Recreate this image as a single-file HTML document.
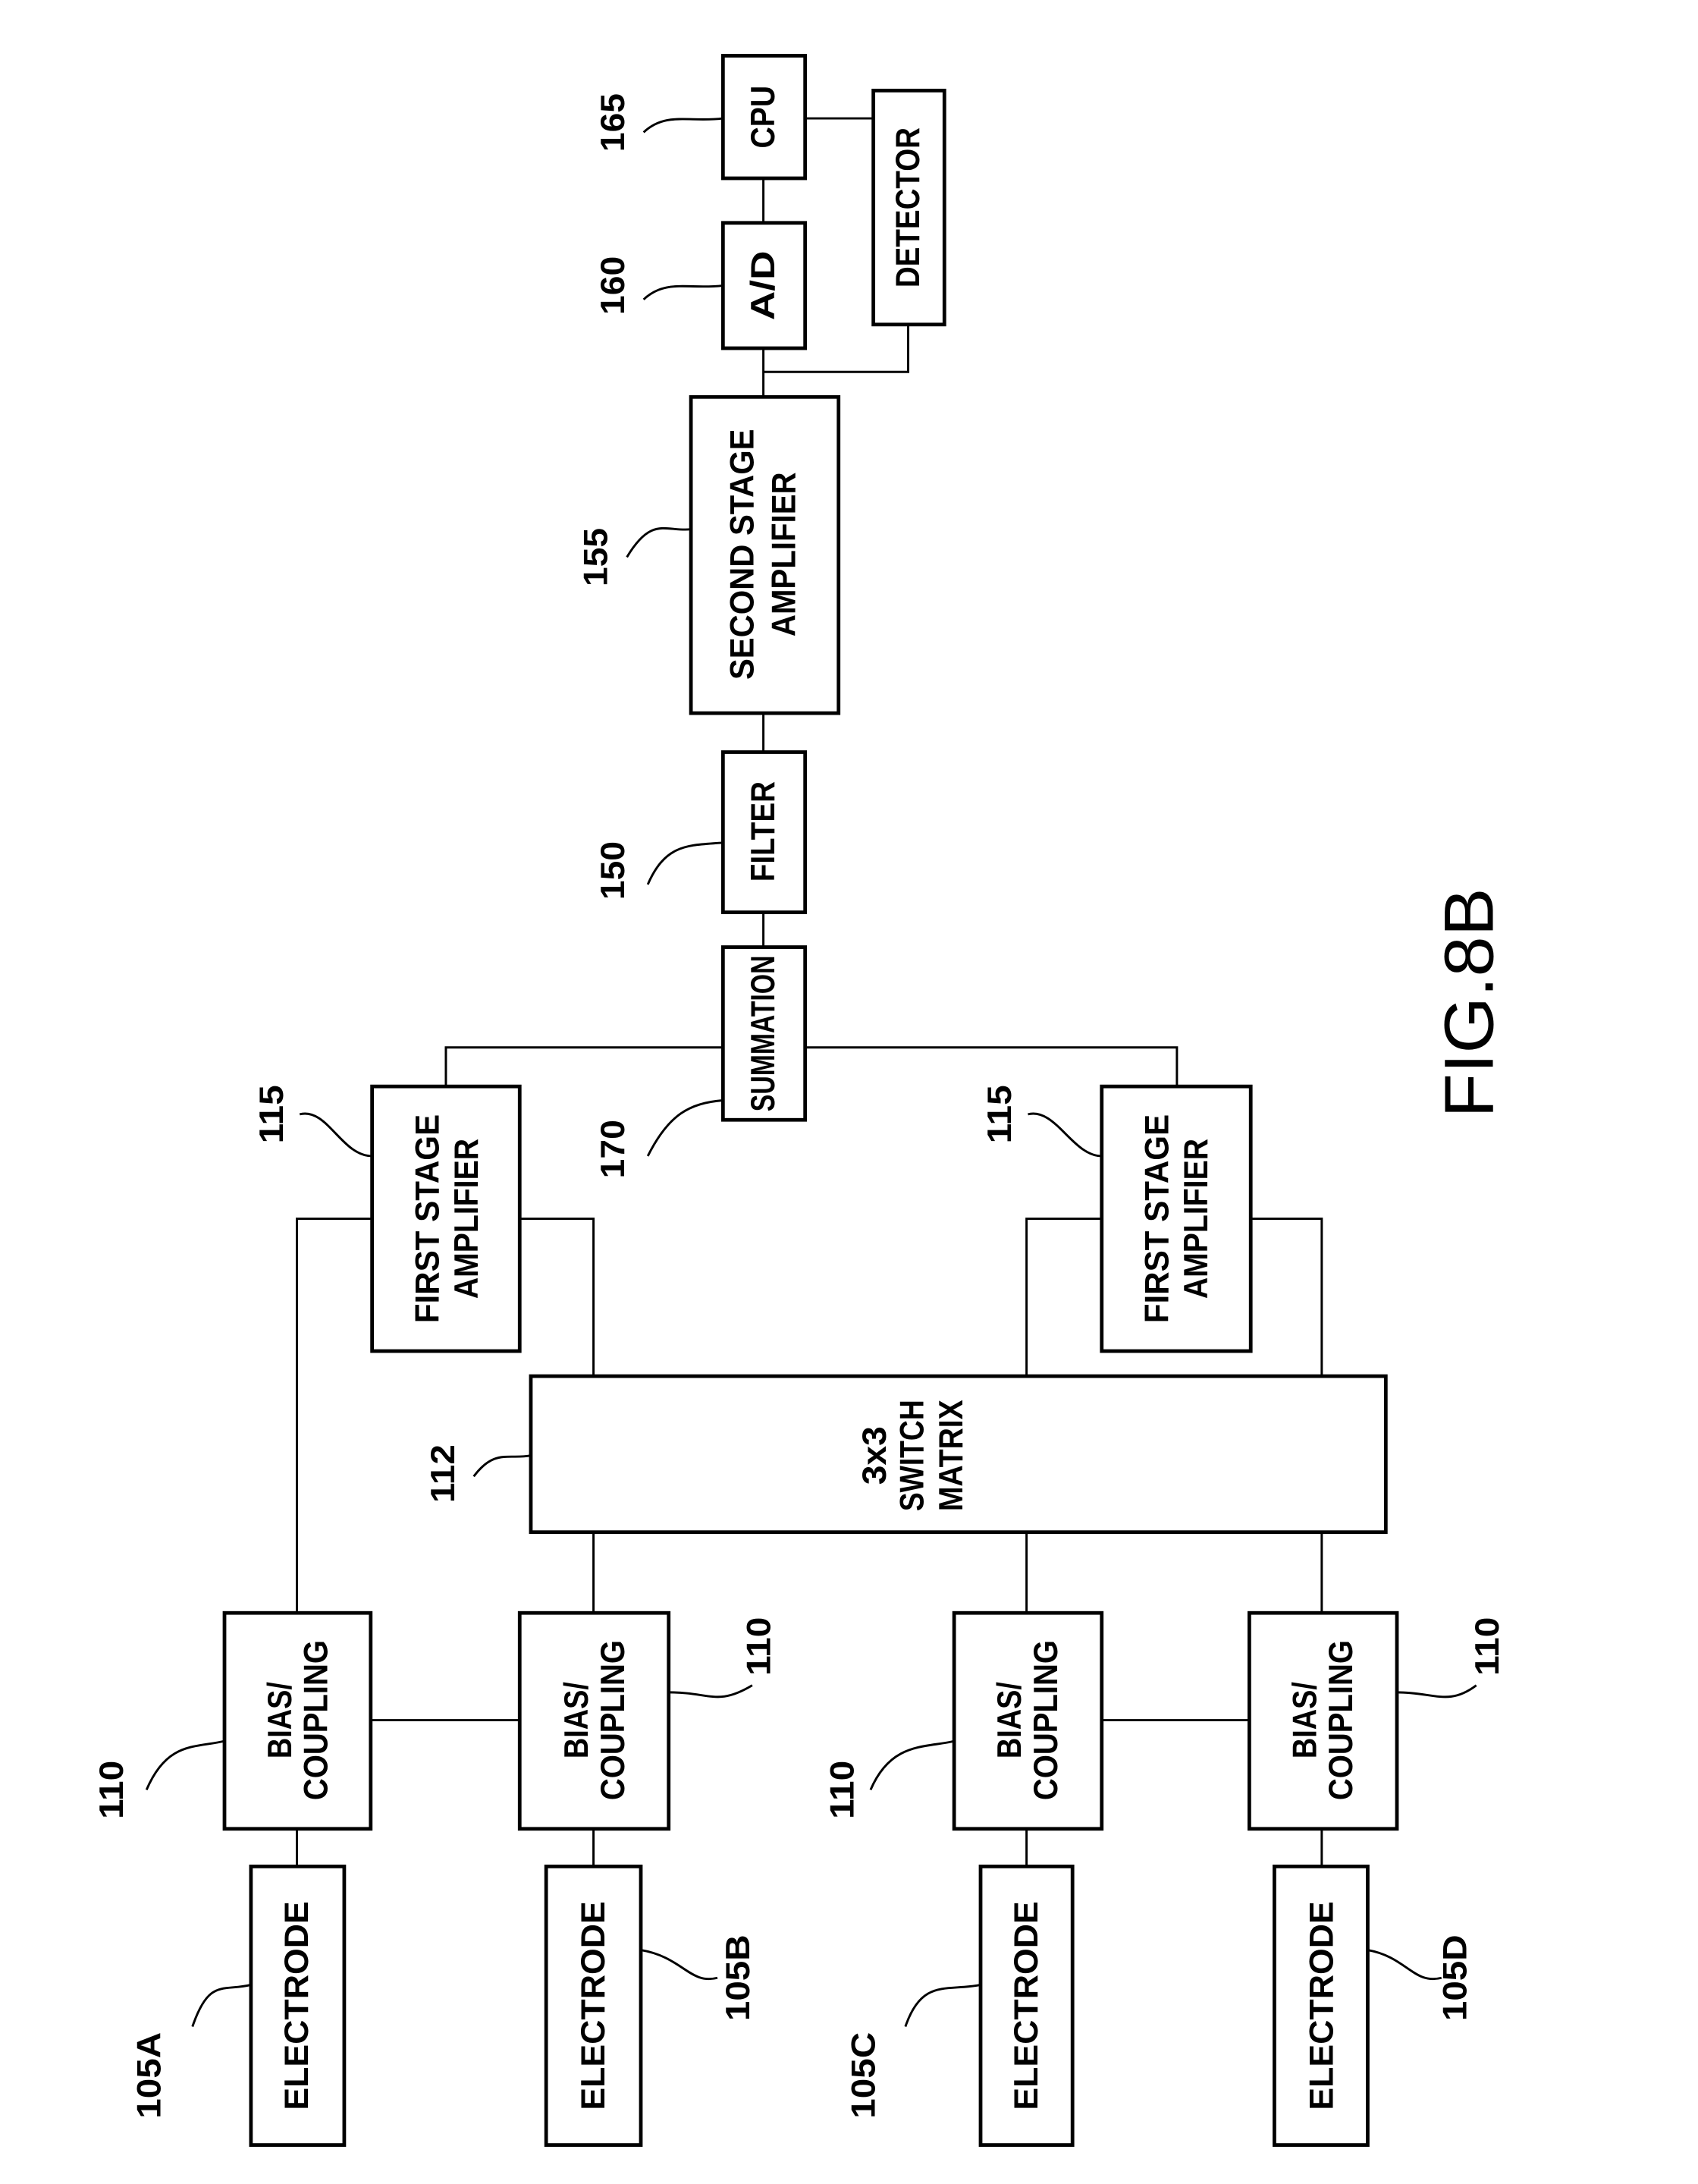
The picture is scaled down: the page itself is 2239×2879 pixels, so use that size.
<!DOCTYPE html>
<html><head><meta charset="utf-8"><style>html,body{margin:0;padding:0;background:#fff}svg{display:block}</style></head>
<body>
<svg width="2239" height="2879" viewBox="0 0 1219 1568" xmlns="http://www.w3.org/2000/svg" font-family="Liberation Sans, sans-serif" font-weight="bold">
<g fill="none" stroke="#000" stroke-width="2.6">
<rect x="180" y="1340" width="67" height="200"/>
<rect x="392" y="1340" width="68" height="200"/>
<rect x="704" y="1340" width="66" height="200"/>
<rect x="915" y="1340" width="67" height="200"/>
<rect x="161" y="1158" width="105" height="155"/>
<rect x="373" y="1158" width="107" height="155"/>
<rect x="685" y="1158" width="106" height="155"/>
<rect x="897" y="1158" width="106" height="155"/>
<rect x="381" y="988" width="614" height="112"/>
<rect x="267" y="780" width="106" height="190"/>
<rect x="791" y="780" width="107" height="190"/>
<rect x="519" y="680" width="59" height="124"/>
<rect x="519" y="540" width="59" height="115"/>
<rect x="496" y="285" width="106" height="227"/>
<rect x="519" y="160" width="59" height="90"/>
<rect x="519" y="40" width="59" height="88"/>
<rect x="627" y="65" width="51" height="168"/>
</g>
<g fill="none" stroke="#000" stroke-width="1.6">
<path d="M213 1313V1340M426 1313V1340M737 1313V1340M949 1313V1340"/>
<path d="M266 1235H373M791 1235H897"/>
<path d="M213 1158V875H267"/>
<path d="M426 1158V1100M737 1158V1100M949 1158V1100"/>
<path d="M426 988V875H373"/>
<path d="M737 988V875H791M949 988V875H898"/>
<path d="M320 780V752H519M578 752H845V780"/>
<path d="M548 655V680M548 512V540M548 250V285M548 128V160"/>
<path d="M578 85H627"/>
<path d="M652 233V267H548"/>
<!-- leaders -->
<path d="M138 1455C150 1420 160 1430 180 1425"/>
<path d="M460 1400C490 1405 495 1425 515 1420"/>
<path d="M650 1455C662 1420 680 1430 704 1425"/>
<path d="M982 1400C1010 1405 1015 1425 1035 1420"/>
<path d="M105 1285C120 1250 140 1255 161 1250"/>
<path d="M480 1215C510 1215 515 1225 540 1210"/>
<path d="M625 1285C640 1250 665 1255 685 1250"/>
<path d="M1003 1215C1030 1215 1040 1225 1060 1210"/>
<path d="M340 1060C355 1040 365 1048 381 1045"/>
<path d="M215 800C235 795 245 830 267 830"/>
<path d="M738 800C758 795 770 830 791 830"/>
<path d="M465 830C480 800 495 792 519 790"/>
<path d="M465 635C478 605 495 607 519 605"/>
<path d="M450 400C468 370 478 382 496 380"/>
<path d="M462 215C478 200 495 208 519 205"/>
<path d="M462 95C478 80 495 88 519 85"/>
</g>
<g font-size="24" fill="#000" text-anchor="middle" dominant-baseline="central">
<text transform="translate(213,1440) rotate(-90)" textLength="150" lengthAdjust="spacingAndGlyphs">ELECTRODE</text>
<text transform="translate(426,1440) rotate(-90)" textLength="150" lengthAdjust="spacingAndGlyphs">ELECTRODE</text>
<text transform="translate(737,1440) rotate(-90)" textLength="150" lengthAdjust="spacingAndGlyphs">ELECTRODE</text>
<text transform="translate(949,1440) rotate(-90)" textLength="150" lengthAdjust="spacingAndGlyphs">ELECTRODE</text>
<g>
<text transform="translate(201,1235) rotate(-90)" textLength="55" lengthAdjust="spacingAndGlyphs">BIAS/</text>
<text transform="translate(227,1235) rotate(-90)" textLength="115" lengthAdjust="spacingAndGlyphs">COUPLING</text>
<text transform="translate(414,1235) rotate(-90)" textLength="55" lengthAdjust="spacingAndGlyphs">BIAS/</text>
<text transform="translate(440,1235) rotate(-90)" textLength="115" lengthAdjust="spacingAndGlyphs">COUPLING</text>
<text transform="translate(725,1235) rotate(-90)" textLength="55" lengthAdjust="spacingAndGlyphs">BIAS/</text>
<text transform="translate(751,1235) rotate(-90)" textLength="115" lengthAdjust="spacingAndGlyphs">COUPLING</text>
<text transform="translate(937,1235) rotate(-90)" textLength="55" lengthAdjust="spacingAndGlyphs">BIAS/</text>
<text transform="translate(963,1235) rotate(-90)" textLength="115" lengthAdjust="spacingAndGlyphs">COUPLING</text>
</g>
<text transform="translate(628,1045) rotate(-90)" textLength="42" lengthAdjust="spacingAndGlyphs">3x3</text>
<text transform="translate(655,1045) rotate(-90)" textLength="80" lengthAdjust="spacingAndGlyphs">SWITCH</text>
<text transform="translate(683,1045) rotate(-90)" textLength="80" lengthAdjust="spacingAndGlyphs">MATRIX</text>
<text transform="translate(307,875) rotate(-90)" textLength="150" lengthAdjust="spacingAndGlyphs">FIRST  STAGE</text>
<text transform="translate(335,875) rotate(-90)" textLength="115" lengthAdjust="spacingAndGlyphs">AMPLIFIER</text>
<text transform="translate(831,875) rotate(-90)" textLength="150" lengthAdjust="spacingAndGlyphs">FIRST  STAGE</text>
<text transform="translate(859,875) rotate(-90)" textLength="115" lengthAdjust="spacingAndGlyphs">AMPLIFIER</text>
<text transform="translate(548,742) rotate(-90)" textLength="112" lengthAdjust="spacingAndGlyphs">SUMMATION</text>
<text transform="translate(548,597) rotate(-90)" textLength="72" lengthAdjust="spacingAndGlyphs">FILTER</text>
<text transform="translate(533,398) rotate(-90)" textLength="180" lengthAdjust="spacingAndGlyphs">SECOND  STAGE</text>
<text transform="translate(563,398) rotate(-90)" textLength="118" lengthAdjust="spacingAndGlyphs">AMPLIFIER</text>
<text transform="translate(548,205) rotate(-90)" textLength="50" lengthAdjust="spacingAndGlyphs">A/D</text>
<text transform="translate(548,84) rotate(-90)" textLength="45" lengthAdjust="spacingAndGlyphs">CPU</text>
<text transform="translate(652,149) rotate(-90)" textLength="115" lengthAdjust="spacingAndGlyphs">DETECTOR</text>
<!-- reference numbers -->
<text transform="translate(107,1490) rotate(-90)" textLength="62" lengthAdjust="spacingAndGlyphs">105A</text>
<text transform="translate(530,1420) rotate(-90)" textLength="62" lengthAdjust="spacingAndGlyphs">105B</text>
<text transform="translate(620,1490) rotate(-90)" textLength="62" lengthAdjust="spacingAndGlyphs">105C</text>
<text transform="translate(1045,1420) rotate(-90)" textLength="62" lengthAdjust="spacingAndGlyphs">105D</text>
<text transform="translate(80,1285) rotate(-90)" textLength="42" lengthAdjust="spacingAndGlyphs">110</text>
<text transform="translate(545,1182) rotate(-90)" textLength="42" lengthAdjust="spacingAndGlyphs">110</text>
<text transform="translate(605,1285) rotate(-90)" textLength="42" lengthAdjust="spacingAndGlyphs">110</text>
<text transform="translate(1068,1182) rotate(-90)" textLength="42" lengthAdjust="spacingAndGlyphs">110</text>
<text transform="translate(318,1058) rotate(-90)" textLength="42" lengthAdjust="spacingAndGlyphs">112</text>
<text transform="translate(195,800) rotate(-90)" textLength="42" lengthAdjust="spacingAndGlyphs">115</text>
<text transform="translate(718,800) rotate(-90)" textLength="42" lengthAdjust="spacingAndGlyphs">115</text>
<text transform="translate(440,825) rotate(-90)" textLength="42" lengthAdjust="spacingAndGlyphs">170</text>
<text transform="translate(440,625) rotate(-90)" textLength="42" lengthAdjust="spacingAndGlyphs">150</text>
<text transform="translate(428,400) rotate(-90)" textLength="42" lengthAdjust="spacingAndGlyphs">155</text>
<text transform="translate(440,205) rotate(-90)" textLength="42" lengthAdjust="spacingAndGlyphs">160</text>
<text transform="translate(440,88) rotate(-90)" textLength="42" lengthAdjust="spacingAndGlyphs">165</text>
<text transform="translate(1055,720) rotate(-90)" font-size="50" font-weight="normal" textLength="165" lengthAdjust="spacingAndGlyphs">FIG.8B</text>
</g>
</svg>
</body></html>
